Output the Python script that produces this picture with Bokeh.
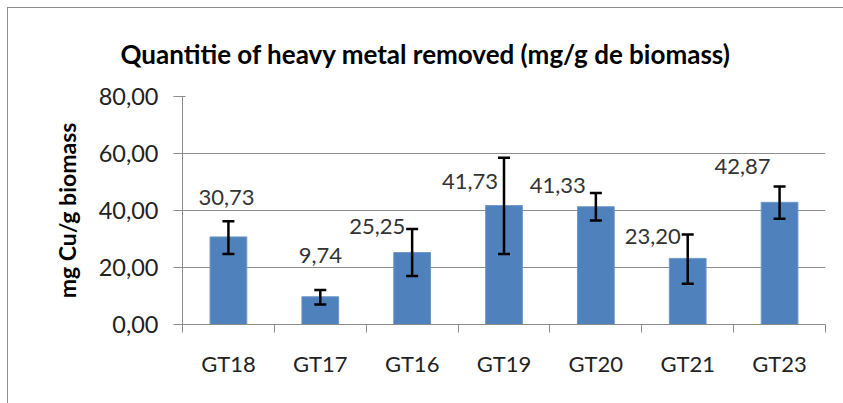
from bokeh.plotting import figure
from bokeh.models import ColumnDataSource, Whisker, TeeHead, FixedTicker, LabelSet, Title
from bokeh.core.properties import value
from bokeh.embed import file_html
from bokeh.resources import INLINE

categories = ["GT18", "GT17", "GT16", "GT19", "GT20", "GT21", "GT23"]
values = [30.73, 9.74, 25.25, 41.73, 41.33, 23.20, 42.87]
err_upper = [36.2, 12.1, 33.5, 58.5, 46.1, 31.6, 48.4]
err_lower = [24.7, 7.0, 17.0, 24.7, 36.5, 14.3, 37.1]
labels = ["30,73", "9,74", "25,25", "41,73", "41,33", "23,20", "42,87"]
y_ticks = [0, 20, 40, 60, 80]
y_tick_labels = ["0,00", "20,00", "40,00", "60,00", "80,00"]

# label placement style (pixels)
lab_dx = [-2, 0, -35, -34, -38, -35, -37]
lab_dy = [39, 41, 26, 24, 21, 22, 36]

xs = [i + 0.5 for i in range(len(categories))]
src = ColumnDataSource(dict(x=xs, top=values, up=err_upper, lo=err_lower,
                            lab=labels, dx=lab_dx, dy=lab_dy))

FONT = "Lato"
p = figure(width=836, height=396, x_range=(0, 7), y_range=(0, 80),
           output_backend="svg", toolbar_location=None,
           min_border_left=174, min_border_right=19, min_border_top=88, min_border_bottom=80)
p.styles = {"margin-left": "7px", "margin-top": "7px",
            "border-left": "1px solid #8c8c8c", "border-top": "1px solid #8c8c8c"}
p.outline_line_color = None
p.background_fill_color = "white"
p.border_fill_color = "white"

p.vbar(x="x", top="top", width=0.4, source=src, fill_color="#4F81BD", line_color="#6f98c8", line_width=1)

w = Whisker(base="x", upper="up", lower="lo", source=src, line_color="black", line_width=2.5,
            level="overlay",
            upper_head=TeeHead(size=12, line_color="black", line_width=2.5),
            lower_head=TeeHead(size=12, line_color="black", line_width=2.5))
p.add_layout(w)

ls = LabelSet(x="x", y="top", text="lab", x_offset="dx", y_offset="dy", source=src,
              text_align="center", text_baseline="middle", text_font=value(FONT),
              text_font_size="22px", text_color="#333333", level="overlay")
p.add_layout(ls)

# axes
p.xaxis.ticker = FixedTicker(ticks=xs, minor_ticks=list(range(8)))
p.xaxis.major_label_overrides = {x: c for x, c in zip(xs, categories)}
p.xaxis.major_tick_line_color = None
p.xaxis.minor_tick_line_color = "#8c8c8c"
p.xaxis.minor_tick_out = 8
p.xaxis.minor_tick_in = 0
p.xaxis.axis_line_color = "#8c8c8c"
p.xaxis.major_label_text_font = FONT
p.xaxis.major_label_text_font_size = "22px"
p.xaxis.major_label_text_color = "#222222"
p.xaxis.major_label_standoff = 17

p.yaxis.ticker = FixedTicker(ticks=y_ticks, minor_ticks=[])
p.yaxis.major_label_overrides = {t: l for t, l in zip(y_ticks, y_tick_labels)}
p.yaxis.major_tick_line_color = "#8c8c8c"
p.yaxis.major_tick_out = 9
p.yaxis.major_tick_in = 3
p.yaxis.axis_line_color = "#8c8c8c"
p.yaxis.major_label_text_font = FONT
p.yaxis.major_label_text_font_size = "23.5px"
p.yaxis.major_label_text_color = "#222222"
p.yaxis.major_label_standoff = 15
p.yaxis.axis_label = "mg Cu/g biomass"
p.yaxis.axis_label_text_font = FONT
p.yaxis.axis_label_text_font_size = "23px"
p.yaxis.axis_label_text_font_style = "bold"
p.yaxis.axis_label_text_color = "black"
p.yaxis.axis_label_standoff = 15

p.xgrid.grid_line_color = None
p.ygrid.grid_line_color = "#8c8c8c"
p.ygrid.grid_line_width = 1

t = Title(text="Quantitie of heavy metal removed (mg/g de biomass)", align="left",
          text_font=FONT, text_font_size="26px", text_font_style="bold",
          text_color="black", offset=-62, standoff=54)
p.add_layout(t, "above")

open("out.html", "w").write(file_html(p, INLINE))
